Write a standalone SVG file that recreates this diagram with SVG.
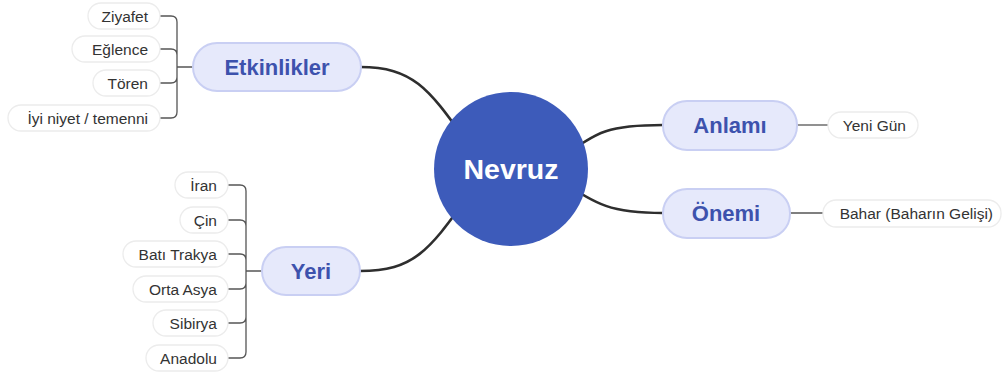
<svg xmlns="http://www.w3.org/2000/svg" width="1003" height="373" viewBox="0 0 1003 373">
<style>
.main{stroke:#2e2e2e;stroke-width:2.6;fill:none}
.sub{stroke:#555;stroke-width:1.3;fill:none}
.pill{fill:#e6e9fb;stroke:#c9cff3;stroke-width:2}
.pt{font-family:"Liberation Sans",Arial,sans-serif;font-weight:bold;font-size:22px;fill:#3d52ad;text-anchor:middle}
.leaf{fill:#fff;stroke:#ececec;stroke-width:1.3}
.lt{font-family:"Liberation Sans",Arial,sans-serif;font-size:15.5px;fill:#333;text-anchor:end}
</style>
<rect width="1003" height="373" fill="#fff"/>
<g id="connectors">
<path class="main" d="M360,67 C420,67 432,95 480,160"/>
<path class="main" d="M360,271 C420,271 432,245 480,180"/>
<path class="main" d="M663,125 C612,125 596,130 560,160"/>
<path class="main" d="M663,213 C612,213 596,205 560,180"/>
<path class="sub" d="M160,16 H171 Q177,16 177,22 V112 Q177,118 171,118 H160 M160,49 H171 Q177,49 177,55 M160,83 H171 Q177,83 177,77 M177,67 H193"/>
<path class="sub" d="M228,185 H240 Q246,185 246,191 V352 Q246,358 240,358 H228 M228,220 H240 Q246,220 246,226 M228,254 H240 Q246,254 246,260 M228,289 H240 Q246,289 246,283 M228,323 H240 Q246,323 246,317 M246,271 H262"/>
<path class="sub" d="M797,125 H828"/>
<path class="sub" d="M790,213 H823"/>
</g>
<g id="nevruz">
<circle cx="511" cy="169" r="77" fill="#3d5bba"/>
<text x="511" y="179" font-family="Liberation Sans,Arial,sans-serif" font-weight="bold" font-size="28.5" fill="#fff" text-anchor="middle">Nevruz</text>
</g>
<g id="etkinlikler">
<rect class="pill" x="193" y="43" width="168" height="48" rx="24"/>
<text class="pt" x="277" y="75">Etkinlikler</text>
</g>
<g id="yeri">
<rect class="pill" x="262" y="247" width="98" height="48" rx="24"/>
<text class="pt" x="311" y="279">Yeri</text>
</g>
<g id="anlami">
<rect class="pill" x="663" y="101" width="134" height="49" rx="24"/>
<text class="pt" x="730" y="133">Anlamı</text>
</g>
<g id="onemi">
<rect class="pill" x="663" y="189" width="127" height="49" rx="24"/>
<text class="pt" x="726" y="221">Önemi</text>
</g>
<g id="ziyafet"><rect class="leaf" x="88" y="3" width="72" height="26" rx="13"/><text class="lt" x="148" y="21.5">Ziyafet</text></g>
<g id="eglence"><rect class="leaf" x="72" y="36" width="88" height="26" rx="13"/><text class="lt" x="148" y="54.5">Eğlence</text></g>
<g id="toren"><rect class="leaf" x="93" y="70" width="67" height="26" rx="13"/><text class="lt" x="148" y="88.5">Tören</text></g>
<g id="iyiniyet"><rect class="leaf" x="8" y="105" width="152" height="26" rx="13"/><text class="lt" x="148" y="123.5">İyi niyet / temenni</text></g>
<g id="iran"><rect class="leaf" x="175" y="172" width="53" height="26" rx="13"/><text class="lt" x="217" y="190.5">İran</text></g>
<g id="cin"><rect class="leaf" x="180" y="207" width="48" height="26" rx="13"/><text class="lt" x="217" y="225.5">Çin</text></g>
<g id="batitrakya"><rect class="leaf" x="123" y="241" width="105" height="26" rx="13"/><text class="lt" x="217" y="259.5">Batı Trakya</text></g>
<g id="ortaasya"><rect class="leaf" x="133" y="276" width="95" height="26" rx="13"/><text class="lt" x="217" y="294.5">Orta Asya</text></g>
<g id="sibirya"><rect class="leaf" x="153" y="310" width="75" height="26" rx="13"/><text class="lt" x="217" y="328.5">Sibirya</text></g>
<g id="anadolu"><rect class="leaf" x="146" y="345" width="82" height="26" rx="13"/><text class="lt" x="217" y="363.5">Anadolu</text></g>
<g id="yenigun"><rect class="leaf" x="828" y="112" width="90" height="26" rx="13"/><text class="lt" x="906" y="130.5">Yeni Gün</text></g>
<g id="bahar"><rect class="leaf" x="823" y="200" width="178" height="27" rx="13"/><text class="lt" x="993" y="218.5">Bahar (Baharın Gelişi)</text></g>
</svg>
